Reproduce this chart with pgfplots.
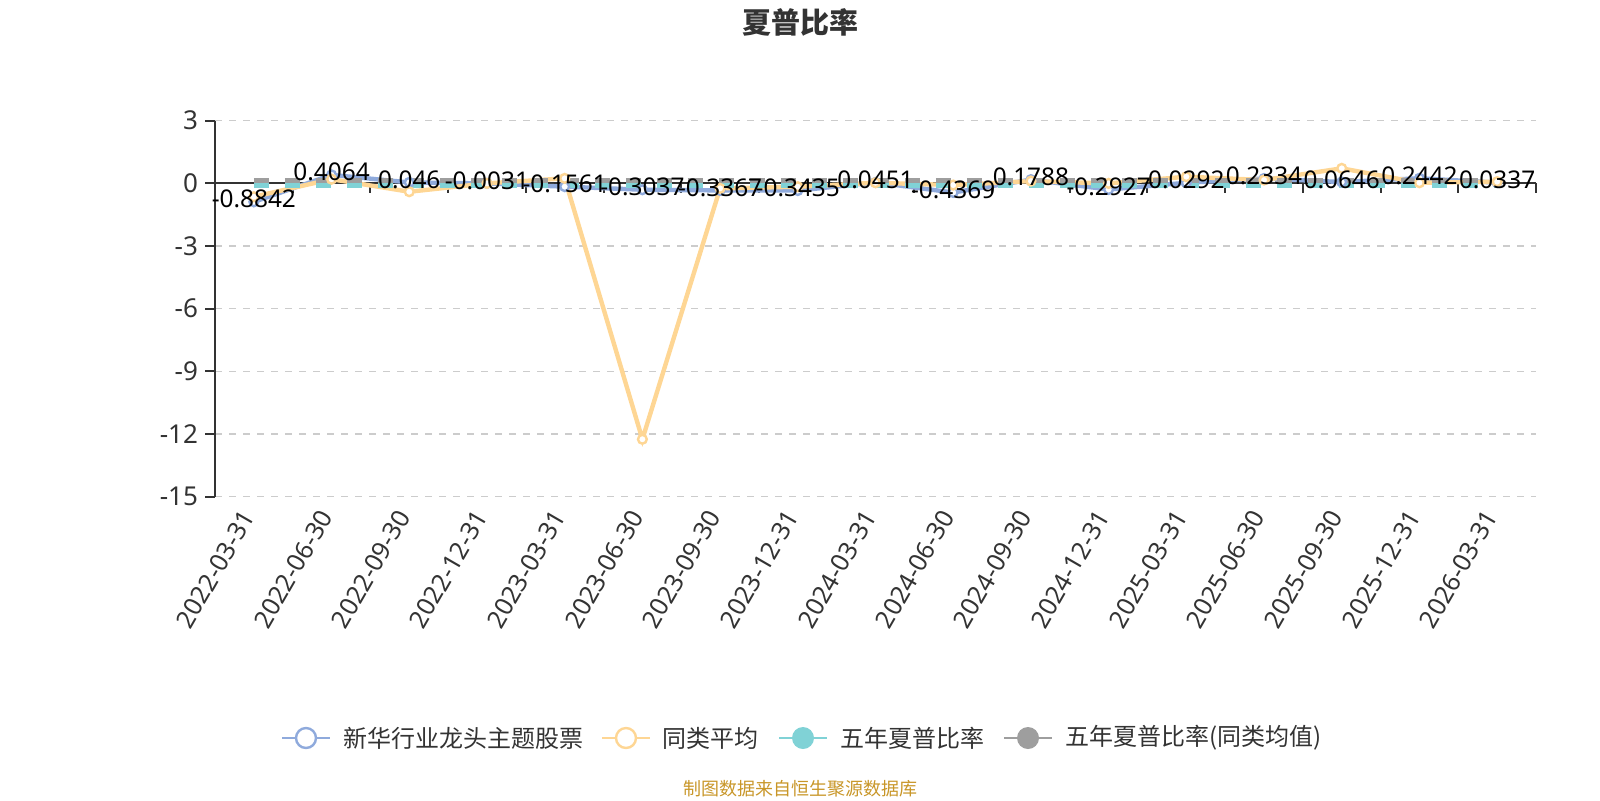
\documentclass[border=0pt]{standalone}
\usepackage{pgfplots}
\usepackage{pgfplotstable}
\pgfplotsset{compat=1.18}
\usepackage{fontspec}
\setmainfont{Noto Sans}
\newfontfamily\cjk{Noto Sans CJK SC}
\definecolor{cblue}{RGB}{143,170,220}
\definecolor{cyellow}{RGB}{254,214,148}
\definecolor{cteal}{RGB}{128,210,214}
\definecolor{cgrey}{RGB}{158,158,158}
\definecolor{cgrid}{RGB}{204,204,204}
\definecolor{ctext}{RGB}{51,51,51}
\definecolor{csrc}{RGB}{200,150,40}
\pgfplotstableread{
x y lab
0 -0.8842 -0.8842
1 0.4064 0.4064
2 0.046 0.046
3 -0.0031 -0.0031
4 -0.1561 -0.1561
5 -0.3037 -0.3037
6 -0.3367 -0.3367
7 -0.3435 -0.3435
8 0.0451 0.0451
9 -0.4369 -0.4369
10 0.1788 0.1788
11 -0.2927 -0.2927
12 0.0292 0.0292
13 0.2334 0.2334
14 0.0646 0.0646
15 0.2442 0.2442
16 0.0337 0.0337
}\fund
\pgfplotstableread{
x y
0 -0.64
1 0.20
2 -0.40
3 0.00
4 0.24
5 -12.25
6 -0.24
7 -0.16
8 0.03
9 -0.08
10 0.11
11 0.00
12 0.32
13 0.16
14 0.72
15 0.03
16 0.08
}\peer
\pgfplotstableread{
x y
0 -0.08
1 -0.08
2 -0.08
3 -0.08
4 -0.08
5 -0.08
6 -0.08
7 -0.08
8 -0.08
9 -0.08
10 -0.08
11 -0.08
12 -0.08
13 -0.08
14 -0.08
15 -0.08
16 -0.08
}\fiveyr
\pgfplotstableread{
x y
0 0.15
1 0.15
2 0.15
3 0.15
4 0.15
5 0.15
6 0.15
7 0.15
8 0.15
9 0.15
10 0.15
11 0.15
12 0.15
13 0.15
14 0.15
15 0.15
16 0.15
}\fiveyrpeer
\begin{document}
\begin{tikzpicture}
\begin{axis}[
  at={(107.5pt,-248.35pt)}, anchor=south west,
  scale only axis, width=660.5pt, height=188pt,
  xmin=-0.5, xmax=16.5, ymin=-15, ymax=3,
  axis x line=bottom, axis y line=left,
  axis line style={-},
  x axis line style={draw=none},
  y axis line style={draw=ctext, line width=1pt},
  xtick={0,...,16},
  xticklabels={2022-03-31,2022-06-30,2022-09-30,2022-12-31,2023-03-31,2023-06-30,2023-09-30,2023-12-31,2024-03-31,2024-06-30,2024-09-30,2024-12-31,2025-03-31,2025-06-30,2025-09-30,2025-12-31,2026-03-31},
  major x tick style={draw=none},
  xticklabel style={rotate=60, anchor=east, font=\fontsize{12.5}{15}\selectfont, text=ctext, xshift=-0.5pt, yshift=1pt},
  ytick={-15,-12,-9,-6,-3,0,3},
  yticklabel style={font=\fontsize{13}{15}\selectfont, text=ctext},
  tick align=outside, major tick length=5pt,
  major y tick style={draw=ctext, line width=1pt},
  ymajorgrids, grid style={cgrid, line width=0.7pt, dash pattern=on 3.5pt off 3.5pt},
  /pgf/number format/assume math mode=true,
  clip=false,
]
\draw[ctext, line width=1pt] (axis cs:-0.5,0) -- (axis cs:16.5,0);
\pgfplotsinvokeforeach{-0.5,0.5,...,16.5}{\draw[ctext, line width=1pt] (axis cs:#1,0) -- ([yshift=-5pt]axis cs:#1,0);}
\addplot[cblue, line width=2.2pt, mark=*, mark size=2.2pt, mark options={fill=white, draw=cblue, line width=1.2pt}] table[x=x,y=y] {\fund};
\addplot[cyellow, line width=2.2pt, mark=*, mark size=2.2pt, mark options={fill=white, draw=cyellow, line width=1.2pt}] table[x=x,y=y] {\peer};
\addplot[cteal, line width=2.5pt, dash pattern=on 7.5pt off 8pt] table[x=x,y=y] {\fiveyr};
\addplot[cgrey, line width=2.5pt, dash pattern=on 7.5pt off 8pt] table[x=x,y=y] {\fiveyrpeer};
\addplot[draw=none, mark=none, nodes near coords, point meta=explicit symbolic,
  every node near coord/.append style={anchor=base, yshift=-3pt, font=\fontsize{12.2}{14}\selectfont, text=black, inner sep=0pt}]
  table[x=x,y=y,meta=lab] {\fund};
\end{axis}
\node[font=\cjk\fontsize{14.5}{16}\selectfont\bfseries, text=ctext] at (400pt,-11.25pt) {夏普比率};
% legend
\begin{scope}[line width=1.2pt]
\draw[cblue] (141pt,-369pt) -- (165pt,-369pt);
\draw[cblue, fill=white] (153pt,-369pt) circle (5pt);
\node[anchor=west, font=\cjk\fontsize{12}{14}\selectfont, text=ctext, inner sep=0pt] at (171pt,-369pt) {新华行业龙头主题股票};
\draw[cyellow] (301pt,-369pt) -- (325pt,-369pt);
\draw[cyellow, fill=white] (313pt,-369pt) circle (5pt);
\node[anchor=west, font=\cjk\fontsize{12}{14}\selectfont, text=ctext, inner sep=0pt] at (330.5pt,-369pt) {同类平均};
\draw[cteal] (389.5pt,-369pt) -- (413.5pt,-369pt);
\fill[cteal] (401.5pt,-369pt) circle (5.5pt);
\node[anchor=west, font=\cjk\fontsize{12}{14}\selectfont, text=ctext, inner sep=0pt] at (419.5pt,-369pt) {五年夏普比率};
\draw[cgrey] (502pt,-369pt) -- (526pt,-369pt);
\fill[cgrey] (514pt,-369pt) circle (5.5pt);
\node[anchor=west, font=\cjk\fontsize{12}{14}\selectfont, text=ctext, inner sep=0pt] at (532pt,-369pt) {五年夏普比率(同类均值)};
\end{scope}
\node[font=\cjk\fontsize{9}{11}\selectfont, text=csrc] at (400pt,-394.5pt) {制图数据来自恒生聚源数据库};
\pgfresetboundingbox
\path[use as bounding box] (0pt,0pt) rectangle (800pt,-400pt);
\end{tikzpicture}
\end{document}
